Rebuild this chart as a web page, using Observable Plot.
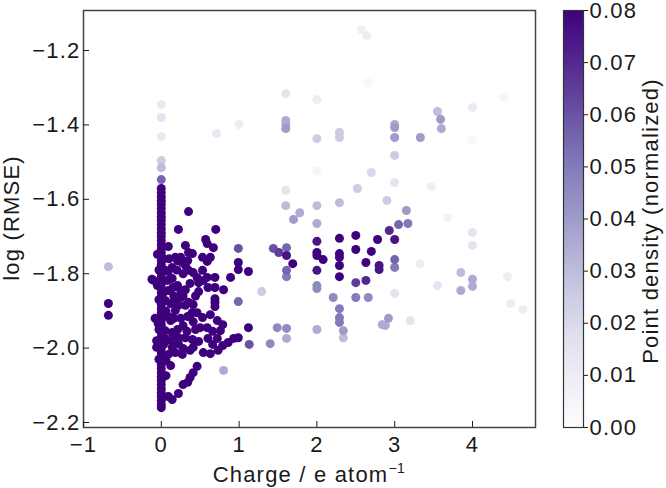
<!DOCTYPE html>
<html>
<head>
<meta charset="utf-8">
<script src="https://cdn.jsdelivr.net/npm/d3@7"></script>
<script src="https://cdn.jsdelivr.net/npm/@observablehq/plot@0.6"></script>
<style>
  body { margin: 0; background: #fff; }
  #chart { position: relative; width: 666px; height: 488px; overflow: hidden;
           font-family: "Liberation Sans", Arial, sans-serif; color: #1a1a1a; }
  #chart svg { position: absolute; left: 0; top: 0; }
  .title { position: absolute; font-size: 22px; line-height: 22px; letter-spacing: 1.2px;
           white-space: nowrap; color: #1a1a1a; }
</style>
</head>
<body>
<div id="chart"></div>
<script>
// Axis ticks
const xTicks = [-1, 0, 1, 2, 3, 4];
const yTicks = [-2.2, -2.0, -1.8, -1.6, -1.4, -1.2];
const densityTicks = [0, 0.01, 0.02, 0.03, 0.04, 0.05, 0.06, 0.07, 0.08];

// Neutral systems: log(RMSE) values stacked at charge = 0
const zeroChargeLogRmse = [
  -1.571, -1.582, -1.593, -1.604, -1.614, -1.625, -1.636, -1.647, -1.657, -1.668,
  -1.679, -1.690, -1.700, -1.711, -1.722, -1.733, -1.743, -1.754, -1.765, -1.776,
  -1.786, -1.797, -1.808, -1.819, -1.829, -1.840, -1.851, -1.862, -1.872, -1.883,
  -1.894, -1.905, -1.915, -1.926, -1.937, -1.948, -1.958, -1.969, -1.980, -1.991,
  -2.001, -2.012, -2.023, -2.034, -2.044, -2.055, -2.066, -2.077, -2.087, -2.098,
  -2.109, -2.120, -2.130, -2.141, -2.152, -2.160
];

// High-density points [charge, log(RMSE)] (density at or above the colour-bar maximum)
const denseCluster = [
  [-0.68, -1.880], [-0.68, -1.912],
  [-0.12, -1.815], [-0.10, -1.818], [-0.05, -1.832], [-0.08, -1.920], [-0.06, -1.980],
  [-0.06, -1.998], [-0.04, -1.934], [-0.05, -1.748],
  [0.03, -1.760], [-0.03, -1.790], [0.03, -1.850], [-0.03, -1.870], [0.03, -1.900],
  [-0.03, -1.950], [0.03, -1.990], [-0.03, -2.030],
  [0.09, -1.727], [0.18, -1.756], [0.25, -1.756], [0.21, -1.765], [0.27, -1.770],
  [0.14, -1.783], [0.31, -1.778], [0.34, -1.765], [0.35, -1.791], [0.41, -1.797],
  [0.09, -1.794], [0.08, -1.818], [0.14, -1.813], [0.21, -1.832], [0.15, -1.837],
  [0.25, -1.845], [0.21, -1.864], [0.12, -1.880], [0.18, -1.877], [0.22, -1.885],
  [0.18, -1.899], [0.09, -1.915], [0.25, -1.920], [0.31, -1.885], [0.35, -1.877],
  [0.31, -1.843], [0.25, -1.864], [0.41, -1.883], [0.37, -1.912], [0.40, -1.904],
  [0.34, -1.915], [0.41, -1.929], [0.14, -1.958], [0.21, -1.950], [0.22, -1.972],
  [0.22, -1.988], [0.31, -1.972], [0.40, -1.977], [0.14, -1.998], [0.18, -2.012],
  [0.27, -2.017], [0.28, -2.001], [0.37, -2.006], [0.12, -2.047], [0.09, -2.017],
  [0.09, -2.130], [0.14, -2.138], [0.22, -2.122], [0.28, -2.098], [0.34, -2.092],
  [0.37, -2.079], [0.41, -2.066], [0.46, -2.049], [0.05, -1.953], [0.05, -1.872],
  [0.05, -1.791], [0.09, -1.845], [0.12, -1.926], [0.12, -1.980], [0.06, -2.033],
  [0.06, -2.074],
  [0.10, -1.760], [0.20, -1.790], [0.28, -1.800], [0.16, -1.860], [0.28, -1.860],
  [0.06, -1.900], [0.16, -1.920], [0.28, -1.940], [0.06, -1.975], [0.18, -1.965],
  [0.33, -1.955], [0.44, -1.950], [0.46, -1.905], [0.44, -1.860],
  [0.35, -1.633], [0.22, -1.681], [0.31, -1.724], [0.35, -1.743], [0.40, -1.746],
  [0.53, -1.756], [0.63, -1.756], [0.70, -1.681], [0.57, -1.708], [0.59, -1.719],
  [0.67, -1.730], [0.59, -1.767], [0.53, -1.791], [0.54, -1.818], [0.48, -1.824],
  [0.46, -1.810], [0.37, -1.826], [0.59, -1.810], [0.69, -1.810], [0.89, -1.810],
  [0.99, -1.770], [0.99, -1.789], [1.12, -1.794], [0.60, -1.837], [0.69, -1.837],
  [0.48, -1.848], [0.80, -1.843], [0.69, -1.867], [0.69, -1.877], [0.69, -1.888],
  [0.63, -1.910], [0.53, -1.918], [0.72, -1.926], [0.79, -1.937], [0.59, -1.945],
  [0.50, -1.945], [0.66, -1.955], [0.76, -1.953], [1.12, -1.945], [0.60, -1.974],
  [0.72, -1.974], [0.66, -1.990], [0.54, -2.012], [0.48, -1.982], [0.41, -1.998],
  [0.73, -2.006], [0.79, -1.993], [0.86, -1.985], [0.93, -1.974], [0.99, -1.972],
  [0.63, -2.015]
];

// Remaining points [charge, log(RMSE), normalized point density]
const sparsePoints = [
  [-0.68, -1.781, 0.030],
  [0.00, -1.345, 0.012], [0.00, -1.380, 0.015], [0.00, -1.431, 0.012],
  [0.00, -1.496, 0.025], [0.00, -1.515, 0.030], [0.00, -1.547, 0.055],
  [0.71, -1.423, 0.012], [1.00, -1.399, 0.010],
  [0.99, -1.732, 0.060], [0.99, -1.875, 0.055], [1.13, -1.990, 0.060],
  [1.29, -1.848, 0.025], [0.80, -2.060, 0.035], [1.40, -1.988, 0.045],
  [1.44, -1.732, 0.060], [1.51, -1.743, 0.065], [1.61, -1.730, 0.055],
  [1.61, -1.751, 0.075], [1.69, -1.773, 0.080], [1.61, -1.791, 0.055],
  [1.61, -1.808, 0.050], [1.49, -1.945, 0.045], [1.61, -1.947, 0.045],
  [1.61, -1.974, 0.035], [2.00, -1.950, 0.035],
  [1.60, -1.316, 0.015], [1.60, -1.388, 0.035], [1.60, -1.399, 0.035],
  [1.60, -1.410, 0.040], [1.60, -1.576, 0.015], [1.60, -1.617, 0.030],
  [1.70, -1.654, 0.040], [1.78, -1.636, 0.035],
  [2.00, -1.332, 0.010], [2.00, -1.437, 0.025], [2.00, -1.523, 0.005],
  [2.00, -1.617, 0.030], [2.00, -1.665, 0.035], [2.00, -1.713, 0.075],
  [2.00, -1.743, 0.080], [2.00, -1.751, 0.080], [2.08, -1.762, 0.080],
  [2.00, -1.791, 0.075], [2.00, -1.832, 0.045], [2.00, -1.840, 0.045],
  [2.21, -1.864, 0.045],
  [2.29, -1.420, 0.025], [2.29, -1.434, 0.025], [2.29, -1.609, 0.030],
  [2.29, -1.705, 0.080], [2.29, -1.746, 0.080], [2.29, -1.756, 0.080],
  [2.29, -1.778, 0.080], [2.29, -1.808, 0.080], [2.29, -1.894, 0.050],
  [2.29, -1.918, 0.050], [2.29, -1.931, 0.050], [2.34, -1.953, 0.040],
  [2.34, -1.972, 0.030],
  [2.50, -1.697, 0.080], [2.50, -1.735, 0.080], [2.50, -1.824, 0.065],
  [2.63, -1.818, 0.070], [2.50, -1.864, 0.050], [2.66, -1.864, 0.045],
  [2.52, -1.571, 0.025], [2.57, -1.144, 0.008], [2.64, -1.160, 0.010],
  [2.66, -1.286, 0.003], [2.70, -1.528, 0.020], [2.70, -1.740, 0.080],
  [2.63, -1.770, 0.080], [2.78, -1.708, 0.080], [2.80, -1.778, 0.075],
  [2.80, -1.789, 0.075], [2.90, -1.603, 0.025], [2.93, -1.684, 0.070],
  [3.05, -1.668, 0.055], [3.17, -1.665, 0.050], [3.15, -1.630, 0.040],
  [2.84, -1.937, 0.035], [2.92, -1.920, 0.040], [2.88, -1.939, 0.035],
  [3.00, -1.399, 0.035], [3.00, -1.407, 0.040], [3.00, -1.434, 0.040],
  [3.00, -1.482, 0.025], [3.00, -1.555, 0.015], [3.00, -1.708, 0.075],
  [3.00, -1.762, 0.055], [3.00, -1.783, 0.050], [3.00, -1.853, 0.015],
  [3.20, -1.926, 0.015], [3.33, -1.434, 0.040], [3.33, -1.773, 0.010],
  [3.47, -1.566, 0.008], [3.55, -1.364, 0.030], [3.59, -1.385, 0.040],
  [3.60, -1.410, 0.035], [3.55, -1.832, 0.015], [3.68, -1.649, 0.006],
  [3.85, -1.797, 0.030], [3.85, -1.845, 0.035], [4.00, -1.815, 0.035],
  [4.00, -1.834, 0.035], [4.00, -1.353, 0.012], [4.00, -1.442, 0.003],
  [4.00, -1.689, 0.015], [4.00, -1.724, 0.015], [4.40, -1.326, 0.005],
  [4.45, -1.808, 0.010], [4.49, -1.880, 0.010], [4.65, -1.896, 0.010]
];

const points = [
  ...zeroChargeLogRmse.map(r => ({charge: 0, logRmse: r, density: 0.08})),
  ...denseCluster.map(([c, r]) => ({charge: c, logRmse: r, density: 0.08})),
  ...sparsePoints.map(([c, r, d]) => ({charge: c, logRmse: r, density: d}))
].sort((a, b) => a.density - b.density); // densest points drawn on top

const font = {fontFamily: "'Liberation Sans', Arial, sans-serif", fontSize: "22px",
              letterSpacing: "1.2px", color: "#1a1a1a", background: "transparent", overflow: "visible"};
const colorScale = {type: "linear", scheme: "purples", domain: [0, 0.08], clamp: true};
const fmt1 = d3.format(".1f");

// Scatter panel
const scatter = Plot.plot({
  width: 545, height: 488,
  marginLeft: 83, marginRight: 10, marginTop: 10, marginBottom: 61,
  style: font,
  x: {domain: [-1, 4.81], label: null},
  y: {domain: [-2.2134, -1.0925], label: null},
  color: colorScale,
  marks: [
    Plot.dot(points, {x: "charge", y: "logRmse", fill: "density", r: 4.5}),
    Plot.frame({stroke: "#444", strokeWidth: 1.5}),
    Plot.axisX({ticks: xTicks, tickFormat: d3.format("d"), tickSize: -6, tickPadding: 15, label: null}),
    Plot.axisY({ticks: yTicks, tickFormat: fmt1, tickSize: -6, tickPadding: 9, label: null})
  ]
});

// Colour bar
const stops = d3.range(0, 0.08, 0.0005).map(v => ({lo: v, hi: v + 0.0005}));
const colorbar = Plot.plot({
  width: 666, height: 488,
  marginLeft: 563, marginRight: 83, marginTop: 10, marginBottom: 61,
  style: font,
  x: {domain: [0, 1], axis: null},
  y: {domain: [0, 0.08], label: null},
  color: colorScale,
  marks: [
    Plot.rect(stops, {x1: 0, x2: 1, y1: "lo", y2: "hi", fill: "lo", stroke: "lo",
                      strokeWidth: 0.6, shapeRendering: "crispEdges"}),
    Plot.frame({stroke: "#333", strokeWidth: 1.2}),
    Plot.axisY({anchor: "right", ticks: densityTicks, tickFormat: d3.format(".2f"),
                tickSize: 4, tickPadding: 2, label: null})
  ]
});

const chart = document.getElementById("chart");
chart.append(scatter, colorbar);

// Axis titles
function addTitle(html, left, top, rotate) {
  const el = document.createElement("div");
  el.className = "title";
  el.innerHTML = html;
  el.style.left = left + "px";
  el.style.top = top + "px";
  el.style.transform = "translate(-50%, -50%)" + (rotate ? " rotate(-90deg)" : "");
  chart.append(el);
}
addTitle("Charge / e atom<sup style=\"font-size:14px;vertical-align:9px;letter-spacing:0.5px\">−1</sup>", 309, 471, false);
addTitle("log (RMSE)", 12, 218, true);
addTitle("Point density (normalized)", 651, 221, true);
</script>
</body>
</html>
